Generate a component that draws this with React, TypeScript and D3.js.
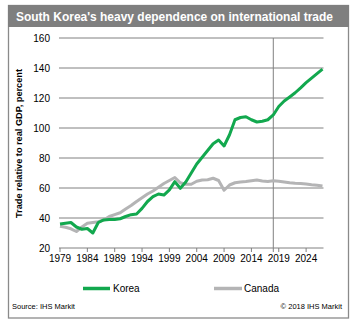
import React from "react";
import * as d3 from "d3";

const years: number[] = d3.range(1979, 2028);
const korea: number[] = [
  36, 36.5, 37, 34, 32.5, 33, 30, 37, 38.7, 39, 39, 39.5, 41, 42.2, 42.7, 46.4, 51, 54.2, 56, 55.3,
  58.7, 64.2, 59.8, 64, 70, 76, 80.5, 85, 89.5, 92, 88, 95.5, 105.5, 107, 107.5, 105.5, 104, 104.5,
  105.5, 108.7, 114.3, 118, 120.7, 123.5, 126.8, 130.3, 133.3, 136.3, 139.2,
];
const canada: number[] = [
  34.5, 33.8, 32.8, 31, 34, 36.5, 37, 37.5, 38.7, 41, 42.3, 43.5, 46, 48.3, 51, 53.5, 56, 58, 60.5,
  63, 65, 67, 63.5, 62.5, 62.5, 64.5, 65.3, 65.5, 66.5, 65, 58.5, 62, 63.5, 64, 64.3, 64.8, 65.3,
  64.7, 64.3, 64.9, 64.5, 64, 63.5, 63.2, 63, 62.7, 62.2, 61.8, 61.3,
];
const yTicks: number[] = [20, 40, 60, 80, 100, 120, 140, 160];
const xTicks: number[] = [1979, 1984, 1989, 1994, 1999, 2004, 2009, 2014, 2019, 2024];
const forecastYear = 2018;

const title = "South Korea's heavy dependence on international trade";
const yTitle = "Trade relative to real GDP, percent";
const seriesNames = ["Korea", "Canada"];

export default function App() {
  const W = 359, H = 327;
  const x = d3.scaleLinear().domain([1979, 2027]).range([60, 322.5]);
  const y = d3.scaleLinear().domain([20, 160]).range([248, 38]);
  const font = "'Liberation Sans', Arial, sans-serif";
  const green = "#12a84e";
  const gray = "#b4b4b5";
  const grid = "#808080";
  const line = d3
    .line<number>()
    .x((_, i) => x(years[i]))
    .y((d) => y(d));

  return (
    <svg
      width={W}
      height={H}
      style={{ position: "absolute", left: 0, top: 0 }}
      fontFamily={font}
    >
      <rect x={0} y={0} width={W} height={H} fill="#fff" />
      <rect x={8.5} y={5.5} width={340} height={312.5} fill="none" stroke="#8a8a8a" strokeWidth={1.3} />
      <rect x={8} y={5} width={341} height={22} fill="#7f7f7f" />
      <text
        x={16}
        y={21}
        fill="#fff"
        fontWeight="bold"
        fontSize={12.2}
        textLength={317}
        lengthAdjust="spacingAndGlyphs"
      >
        {title}
      </text>

      {yTicks.slice(1).map((t) => (
        <line key={t} x1={59} x2={323.5} y1={y(t)} y2={y(t)} stroke={grid} strokeWidth={1} />
      ))}
      {yTicks.map((t) => (
        <text key={"l" + t} x={50} y={y(t) + 3.5} textAnchor="end" fontSize={10} fill="#000">
          {t}
        </text>
      ))}
      <line x1={x(forecastYear)} x2={x(forecastYear)} y1={y(160)} y2={252} stroke={grid} strokeWidth={1} />

      <line x1={59} x2={323.5} y1={y(20)} y2={y(20)} stroke={grid} strokeWidth={1} />
      {xTicks.map((t) => (
        <g key={t}>
          <line x1={x(t)} x2={x(t)} y1={248} y2={252} stroke={grid} strokeWidth={1} />
          <text x={x(t)} y={262} textAnchor="middle" fontSize={10} fill="#000">
            {t}
          </text>
        </g>
      ))}

      <path d={line(canada) || ""} fill="none" stroke={gray} strokeWidth={3} strokeLinejoin="round" />
      <path d={line(korea) || ""} fill="none" stroke={green} strokeWidth={3} strokeLinejoin="round" />

      <text
        transform={`translate(22,143.5) rotate(-90)`}
        textAnchor="middle"
        fontSize={9.6}
        fontWeight="bold"
        fill="#000"
        textLength={149}
        lengthAdjust="spacingAndGlyphs"
      >
        {yTitle}
      </text>

      <line x1={83} x2={110} y1={288.5} y2={288.5} stroke={green} strokeWidth={3.5} />
      <text x={113} y={292} fontSize={10} fill="#000">{seriesNames[0]}</text>
      <line x1={214} x2={242} y1={288.5} y2={288.5} stroke={gray} strokeWidth={3.5} />
      <text x={244} y={292} fontSize={10} fill="#000">{seriesNames[1]}</text>

      <text x={12} y={309} fontSize={7.5} fill="#000">
        Source:  IHS Markit
      </text>
      <text x={342} y={309} fontSize={7.5} textAnchor="end" fill="#000">
        © 2018  IHS Markit
      </text>
    </svg>
  );
}
